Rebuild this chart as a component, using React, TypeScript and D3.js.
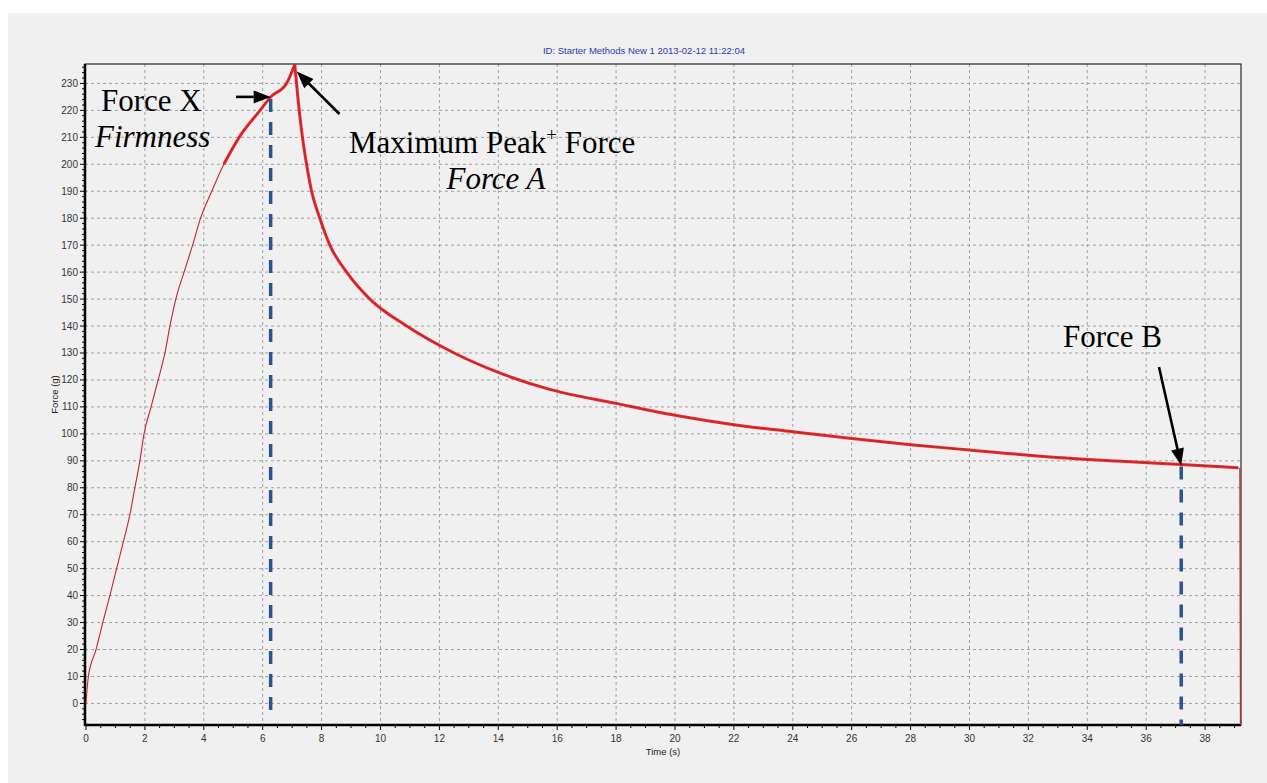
import React from "react";
import * as d3 from "d3";

// readings taken off the trace (time in s, force in g)
const timeS = [
  0, 0.08, 0.34, 0.57, 0.81, 1.04, 1.27, 1.49, 1.66, 1.83, 1.97, 2.21, 2.45,
  2.68, 2.85, 3.05, 3.33, 3.62, 3.89, 4.27, 4.68, 5.2, 5.91, 6.27, 6.81, 7.09,
  7.24, 7.35, 7.49, 7.66, 7.94, 8.28, 8.85, 9.64, 10.89, 12.5, 14, 15.75, 18,
  20, 22, 24, 26, 28, 30, 31.03, 33, 35, 37.19, 39.12, 39.18, 39.2,
];
const forceG = [
  0, 10, 20, 30, 40, 50, 60, 70, 80, 90, 100, 110, 120, 130, 140, 150, 160,
  170, 180, 190, 200, 210, 220, 225, 230, 237, 220, 210, 200, 190, 180, 170,
  160, 150, 140, 130, 122.8, 116.5, 111.3, 106.9, 103.4, 100.8, 98.3, 96, 94,
  93, 91.2, 89.9, 88.6, 87.4, 87, -8,
];

const yTicks = d3.range(0, 231, 10);
const xTicks = d3.range(0, 39, 2);

const title = "ID: Starter Methods New 1 2013-02-12 11:22:04";

// marked points
const forceX = { t: 6.27, f: 225 };
const peak = { t: 7.09, f: 237 };
const forceB = { t: 37.19, f: 88.6 };

const W = 1267;
const H = 783;
const left = 85;
const right = 1241;
const top = 64;
const bottom = 725;

export default function App() {
  document.body.style.margin = "0";
  const x = d3.scaleLinear().domain([0, 39.22]).range([86, right]);
  const y = d3.scaleLinear().domain([-8, 237.2]).range([bottom, top]);

  const pts = timeS.map((t, i) => [t, forceG[i]] as [number, number]);
  const rise = pts.filter((d) => d[0] <= peak.t);
  const fall = pts.filter((d) => d[0] >= peak.t);
  const line = d3
    .line<[number, number]>()
    .x((d) => x(d[0]))
    .y((d) => y(d[1]))
    .curve(d3.curveMonotoneX);
  const noisyRise = rise.filter((d) => d[0] >= 4.4);
  const noisyFall = fall.filter((d) => d[0] <= 39.13);

  const sans = "'Liberation Sans', Arial, sans-serif";
  const serif = "'Liberation Serif', 'Times New Roman', serif";

  const arrow = (x1: number, y1: number, x2: number, y2: number, key: string) => {
    const ang = Math.atan2(y2 - y1, x2 - x1);
    const len = 17;
    const hw = 6.5;
    const bx = x2 - len * Math.cos(ang);
    const by = y2 - len * Math.sin(ang);
    const px = -Math.sin(ang) * hw;
    const py = Math.cos(ang) * hw;
    return (
      <g key={key}>
        <line x1={x1} y1={y1} x2={bx} y2={by} stroke="#000" strokeWidth={2.6} />
        <path
          d={`M${x2},${y2}L${bx + px},${by + py}L${bx - px},${by - py}Z`}
          fill="#000"
        />
      </g>
    );
  };

  return (
    <svg
      width={W}
      height={H}
      style={{ position: "absolute", left: 0, top: 0, display: "block" }}
    >
      <rect x={0} y={0} width={W} height={H} fill="#fff" />
      <rect x={8} y={13} width={W - 8} height={H - 13} fill="#f0f0f0" />

      <text
        x={644}
        y={54}
        textAnchor="middle"
        fontFamily={sans}
        fontSize={9.5}
        fill="#3535b0"
      >
        {title}
      </text>

      {/* grid */}
      {xTicks
        .filter((t) => t > 0)
        .map((t) => (
          <line
            key={"gx" + t}
            x1={x(t)}
            x2={x(t)}
            y1={top}
            y2={bottom}
            stroke="#a0a0a0"
            strokeDasharray="3,3"
          />
        ))}
      {yTicks.map((f) => (
        <line
          key={"gy" + f}
          x1={left}
          x2={right}
          y1={y(f)}
          y2={y(f)}
          stroke="#a0a0a0"
          strokeDasharray="3,3"
        />
      ))}

      {/* frame */}
      <rect
        x={left}
        y={top}
        width={right - left}
        height={bottom - top}
        fill="none"
        stroke="#000"
        strokeWidth={1}
      />
      <line x1={left} x2={left} y1={top} y2={bottom + 1} stroke="#000" strokeWidth={2.5} />
      <line x1={left} x2={right} y1={bottom} y2={bottom} stroke="#000" strokeWidth={2.5} />

      {/* ticks */}
      {d3.range(0, 39.1, 0.5).map((t) => (
        <line
          key={"tx" + t}
          x1={x(t)}
          x2={x(t)}
          y1={bottom}
          y2={bottom + (t % 2 === 0 ? 5 : 3)}
          stroke="#000"
        />
      ))}
      {d3.range(-6, 237, 2).map((f) => (
        <line
          key={"ty" + f}
          x1={left - (f % 10 === 0 ? 5 : 3)}
          x2={left}
          y1={y(f)}
          y2={y(f)}
          stroke="#000"
        />
      ))}
      {yTicks.map((f) => (
        <text
          key={"ly" + f}
          x={78}
          y={y(f) + 3.5}
          textAnchor="end"
          fontFamily={sans}
          fontSize={10}
          fill="#333"
        >
          {f}
        </text>
      ))}
      {xTicks.map((t) => (
        <text
          key={"lx" + t}
          x={x(t)}
          y={742}
          textAnchor="middle"
          fontFamily={sans}
          fontSize={10}
          fill="#333"
        >
          {t}
        </text>
      ))}
      <text
        x={663}
        y={755}
        textAnchor="middle"
        fontFamily={sans}
        fontSize={9.5}
        fill="#222"
      >
        Time (s)
      </text>
      <text
        transform={`translate(58,${(top + bottom) / 2}) rotate(-90)`}
        textAnchor="middle"
        fontFamily={sans}
        fontSize={9.5}
        fill="#222"
      >
        Force (g)
      </text>

      {/* trace */}
      {[noisyRise, noisyFall].map((seg, i) => (
        <path
          key={"band" + i}
          d={line(seg) || ""}
          fill="none"
          stroke="#e8161b"
          strokeWidth={3}
          strokeOpacity={0.9}
        />
      ))}
      {[rise, fall].map((seg, i) => (
        <path
          key={"trace" + i}
          d={line(seg) || ""}
          fill="none"
          stroke="#c4242a"
          strokeWidth={1.1}
        />
      ))}

      {/* markers */}
      <line
        x1={x(forceX.t)}
        x2={x(forceX.t)}
        y1={y(forceX.f) + 2}
        y2={bottom - 6}
        stroke="#2a5491"
        strokeWidth={3.5}
        strokeDasharray="13,10"
      />
      <line
        x1={x(forceB.t)}
        x2={x(forceB.t)}
        y1={y(forceB.f) + 2}
        y2={bottom}
        stroke="#2a5491"
        strokeWidth={3.5}
        strokeDasharray="13,10"
      />

      {arrow(236, y(forceX.f), x(forceX.t), y(forceX.f), "ax")}
      {arrow(339.5, 114, x(peak.t) + 2, y(peak.f) + 7, "ap")}
      {arrow(1159, 367, x(forceB.t), y(forceB.f) + 1, "ab")}

      <text x={101} y={111} fontFamily={serif} fontSize={31} fill="#000">
        Force X
      </text>
      <text
        x={95}
        y={147}
        fontFamily={serif}
        fontSize={31}
        fontStyle="italic"
        fill="#000"
      >
        Firmness
      </text>
      <text x={349} y={153} fontFamily={serif} fontSize={31} fill="#000">
        Maximum Peak
        <tspan fontSize={19} dy={-12}>
          +
        </tspan>
        <tspan dy={12}> Force</tspan>
      </text>
      <text
        x={496}
        y={189}
        textAnchor="middle"
        fontFamily={serif}
        fontSize={31}
        fontStyle="italic"
        fill="#000"
      >
        Force A
      </text>
      <text x={1063} y={347} fontFamily={serif} fontSize={31} fill="#000">
        Force B
      </text>
    </svg>
  );
}
